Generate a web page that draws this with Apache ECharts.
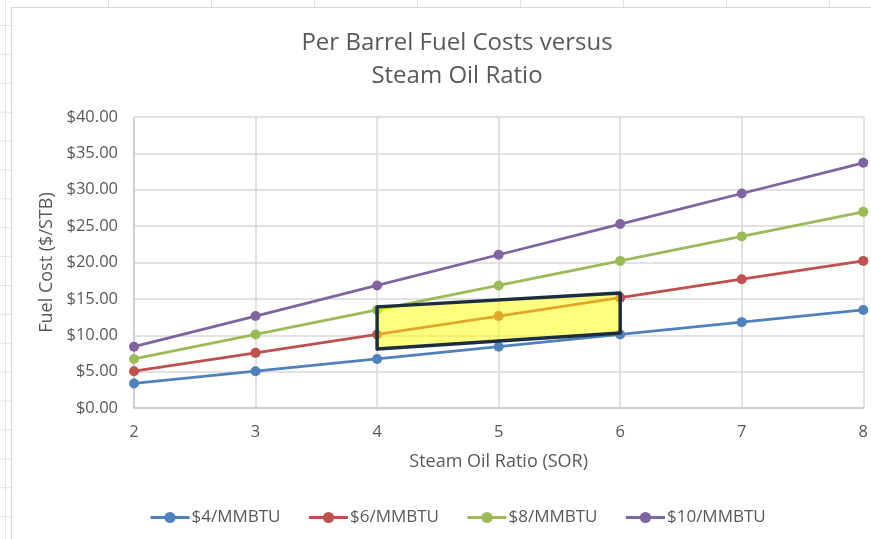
<!DOCTYPE html>
<html>
<head>
<meta charset="utf-8">
<script src="https://cdn.jsdelivr.net/npm/echarts@6/dist/echarts.min.js"></script>
<style>
    html, body { margin: 0; padding: 0; }
    body {
        width: 871px; height: 539px; overflow: hidden; position: relative;
        background-color: #fff;
        background-image: linear-gradient(to right, #e2e2e2 1px, transparent 1px),
                          linear-gradient(to bottom, #e2e2e2 1px, transparent 1px);
        background-size: 103px 28.9px;
        background-position: 5px 25px;
    }
    #panel {
        position: absolute; left: 11px; top: 7px; width: 900px; height: 600px;
        background: #fff; border: 1.5px solid #d9d9d9;
    }
    #main { position: absolute; left: 0; top: 0; width: 871px; height: 539px; }
</style>
</head>
<body>
<div id="panel"></div>
<div id="main"></div>
<script>
// Steam oil ratio (x) and fuel cost per barrel for each gas price
var sor = [2, 3, 4, 5, 6, 7, 8];
var cost4 = [3.37, 5.06, 6.74, 8.43, 10.11, 11.80, 13.48];
var cost6 = [5.06, 7.58, 10.11, 12.64, 15.17, 17.70, 20.22];
var cost8 = [6.74, 10.11, 13.48, 16.85, 20.22, 23.59, 26.96];
var cost10 = [8.43, 12.64, 16.85, 21.06, 25.28, 29.49, 33.70];
var seriesNames = ['$4/MMBTU', '$6/MMBTU', '$8/MMBTU', '$10/MMBTU'];
var colors = ['#4f81bd', '#c0504d', '#9bbb59', '#8064a2'];

// highlighted band corners (SOR, $/STB)
var boxX = [4, 6, 6, 4];
var boxY = [13.9, 15.8, 10.3, 8.1];

var font = '"Open Sans", "Noto Sans", sans-serif';

function pairs(ys) {
    return sor.map(function(x, i) { return [x, ys[i]]; });
}

var lineSeries = [cost4, cost6, cost8, cost10].map(function(ys, i) {
    return {
        name: seriesNames[i],
        type: 'line',
        data: pairs(ys),
        symbol: 'circle',
        symbolSize: 10,
        lineStyle: { width: 2.75, color: colors[i] },
        itemStyle: { color: colors[i] },
        z: 3
    };
});

var myChart = echarts.init(document.getElementById('main'));
var option = {
    animation: false,
    backgroundColor: 'transparent',
    title: {
        text: 'Per Barrel Fuel Costs versus\nSteam Oil Ratio',
        left: 452,
        textAlign: 'center',
        top: 22,
        textStyle: { fontFamily: font, fontSize: 24, fontWeight: 'normal', color: '#595959', lineHeight: 33 }
    },
    legend: {
        data: seriesNames,
        left: 149,
        top: 509,
        padding: 0,
        itemWidth: 39,
        itemHeight: 14,
        itemGap: 27,
        lineStyle: { width: 3 },
        textStyle: { fontFamily: font, fontSize: 17, color: '#595959', padding: [0, 0, 0, -3] }
    },
    grid: { left: 134, right: 4, top: 117, bottom: 131 },
    xAxis: {
        type: 'value',
        min: 2, max: 8, interval: 1,
        name: 'Steam Oil Ratio (SOR)',
        nameLocation: 'middle',
        nameGap: 45,
        nameTextStyle: { fontFamily: font, fontSize: 18, color: '#595959' },
        axisLine: { show: true, lineStyle: { color: '#c8c8c8', width: 1.5 } },
        axisTick: { show: false },
        axisLabel: { fontFamily: font, fontSize: 16.5, color: '#595959', margin: 16 },
        splitLine: { show: true, lineStyle: { color: '#d9d9d9', width: 1.5 } }
    },
    yAxis: {
        type: 'value',
        min: 0, max: 40, interval: 5,
        name: 'Fuel Cost ($/STB)',
        nameLocation: 'middle',
        nameGap: 74,
        nameTextStyle: { fontFamily: font, fontSize: 18, color: '#595959' },
        axisLine: { show: true, lineStyle: { color: '#c8c8c8', width: 1.5 } },
        axisTick: { show: false },
        axisLabel: {
            fontFamily: font, fontSize: 16.5, color: '#595959', margin: 16,
            formatter: function(v) { return '$' + v.toFixed(2); }
        },
        splitLine: { show: true, lineStyle: { color: '#d9d9d9', width: 1.5 } }
    },
    series: lineSeries.concat([{
        type: 'custom',
        name: 'band',
        data: [[boxX[0], boxY[0]]],
        z: 10,
        renderItem: function(params, api) {
            var pts = boxX.map(function(x, i) { return api.coord([x, boxY[i]]); });
            return {
                type: 'polygon',
                shape: { points: pts },
                style: { fill: 'rgba(255,255,0,0.5)', stroke: '#1d2d40', lineWidth: 3.5, lineJoin: 'round' }
            };
        }
    }])
};
myChart.setOption(option);
</script>
</body>
</html>
